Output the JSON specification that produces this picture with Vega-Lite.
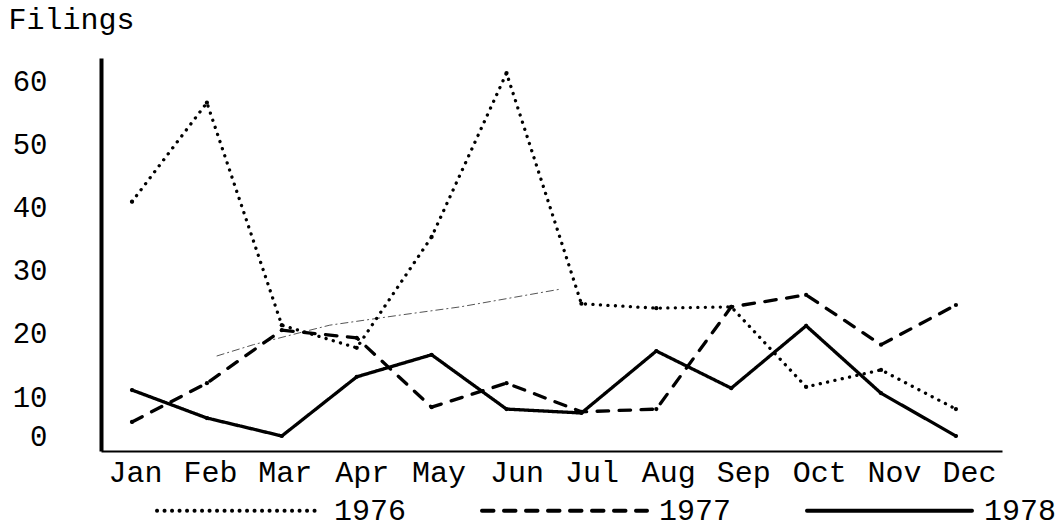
{
  "$schema": "https://vega.github.io/schema/vega-lite/v6.json",
  "width": 901,
  "height": 393,
  "autosize": {"type": "none"},
  "padding": {"left": 101, "top": 58, "right": 55, "bottom": 77},
  "background": "white",
  "config": {"view": {"stroke": null}, "font": "Liberation Mono"},
  "datasets": {
    "filings": [
      {"year": "1976", "m": 1, "v": 41.0},
      {"year": "1976", "m": 2, "v": 56.7},
      {"year": "1976", "m": 3, "v": 21.4},
      {"year": "1976", "m": 4, "v": 17.8},
      {"year": "1976", "m": 5, "v": 35.4},
      {"year": "1976", "m": 6, "v": 61.4},
      {"year": "1976", "m": 7, "v": 24.8},
      {"year": "1976", "m": 8, "v": 24.1},
      {"year": "1976", "m": 9, "v": 24.3},
      {"year": "1976", "m": 10, "v": 11.6},
      {"year": "1976", "m": 11, "v": 14.3},
      {"year": "1976", "m": 12, "v": 6.9},
      {"year": "1977", "m": 1, "v": 3.6},
      {"year": "1977", "m": 2, "v": 12.2},
      {"year": "1977", "m": 3, "v": 20.6},
      {"year": "1977", "m": 4, "v": 19.4},
      {"year": "1977", "m": 5, "v": 7.4},
      {"year": "1977", "m": 6, "v": 12.2},
      {"year": "1977", "m": 7, "v": 6.2},
      {"year": "1977", "m": 8, "v": 6.9},
      {"year": "1977", "m": 9, "v": 24.3},
      {"year": "1977", "m": 10, "v": 26.2},
      {"year": "1977", "m": 11, "v": 18.3},
      {"year": "1977", "m": 12, "v": 24.6},
      {"year": "1978", "m": 1, "v": 11.1},
      {"year": "1978", "m": 2, "v": 4.6},
      {"year": "1978", "m": 3, "v": 0},
      {"year": "1978", "m": 4, "v": 13.2},
      {"year": "1978", "m": 5, "v": 16.7},
      {"year": "1978", "m": 6, "v": 6.9},
      {"year": "1978", "m": 7, "v": 5.9},
      {"year": "1978", "m": 8, "v": 17.3},
      {"year": "1978", "m": 9, "v": 11.4},
      {"year": "1978", "m": 10, "v": 21.3},
      {"year": "1978", "m": 11, "v": 10.6},
      {"year": "1978", "m": 12, "v": 0}
    ],
    "trace": [
      {"m": 2.13, "v": 16.5},
      {"m": 2.62, "v": 18.3},
      {"m": 3.24, "v": 20.2},
      {"m": 3.64, "v": 21.4},
      {"m": 4.58, "v": 23.0},
      {"m": 5.38, "v": 24.3},
      {"m": 6.71, "v": 27.1}
    ]
  },
  "encoding": {
    "x": {
      "field": "m",
      "type": "quantitative",
      "scale": {"domain": [0.586, 12.615], "nice": false, "zero": false},
      "axis": {
        "values": [1, 2, 3, 4, 5, 6, 7, 8, 9, 10, 11, 12],
        "labelExpr": "['Jan','Feb','Mar','Apr','May','Jun','Jul','Aug','Sep','Oct','Nov','Dec'][datum.value-1]",
        "title": null,
        "grid": false,
        "ticks": false,
        "tickSize": 0,
        "domainWidth": 2,
        "domainColor": "black",
        "labelFont": "Liberation Mono",
        "labelFontSize": 30,
        "labelColor": "black",
        "labelPadding": 6,
        "labelFlush": false,
        "labelOverlap": false,
        "labelBound": false,
        "labelOffset": {
          "condition": [
            {"test": "datum.value <= 3", "value": 3},
            {"test": "datum.value <= 4", "value": 5},
            {"test": "datum.value <= 5", "value": 7},
            {"test": "datum.value <= 7", "value": 10},
            {"test": "datum.value <= 9", "value": 12}
          ],
          "value": 13
        }
      }
    },
    "y": {
      "field": "v",
      "type": "quantitative",
      "scale": {"domain": [-3.85, 0, 10, 63.8], "range": [393, 378, 339, 0], "nice": false, "zero": false},
      "axis": {
        "values": [0, 10, 20, 30, 40, 50, 60],
        "grid": false,
        "ticks": false,
        "tickSize": 0,
        "domainWidth": 4,
        "domainColor": "black",
        "labelFont": "Liberation Mono",
        "labelFontSize": 29,
        "labelColor": "black",
        "labelPadding": 54,
        "labelAlign": "right",
        "labelBaseline": "middle",
        "labelFlush": false,
        "labelOverlap": false,
        "title": "Filings",
        "titleAngle": 0,
        "titleAlign": "left",
        "titleBaseline": "alphabetic",
        "titleX": -93,
        "titleY": -30,
        "titleFont": "Liberation Mono",
        "titleFontSize": 30,
        "titleFontWeight": "normal",
        "titleColor": "black"
      }
    }
  },
  "layer": [
    {
      "data": {"name": "trace"},
      "mark": {"type": "line", "color": "#555555", "strokeWidth": 1, "strokeDash": [8, 3, 2, 3]}
    },
    {
      "data": {"name": "filings"},
      "mark": {"type": "line", "color": "black", "strokeWidth": 3.3, "strokeCap": "round"},
      "encoding": {
        "strokeDash": {
          "field": "year",
          "type": "nominal",
          "scale": {"domain": ["1976", "1977", "1978"], "range": [[0.1, 7.4], [11.5, 10.5], [1, 0]]},
          "legend": {
            "orient": "none",
            "legendX": 54,
            "legendY": 368,
            "direction": "horizontal",
            "columns": 3,
            "title": null,
            "padding": 0,
            "symbolType": "stroke",
            "symbolSize": 27225,
            "symbolStrokeWidth": 4,
            "symbolStrokeColor": "black",
            "labelFont": "Liberation Mono",
            "labelFontSize": 30,
            "labelColor": "black",
            "labelOffset": 10,
            "labelLimit": 0,
            "columnPadding": 67,
            "encoding": {
              "symbols": {
                "strokeDash": {"signal": "datum.value === '1976' ? [0.1, 18.6] : datum.value === '1977' ? [9, 9.7] : [1, 0]"},
                "strokeCap": {"value": "round"}
              }
            }
          }
        }
      }
    },
    {
      "data": {"name": "filings"},
      "mark": {"type": "circle", "color": "black", "size": 18, "opacity": 1}
    }
  ]
}
